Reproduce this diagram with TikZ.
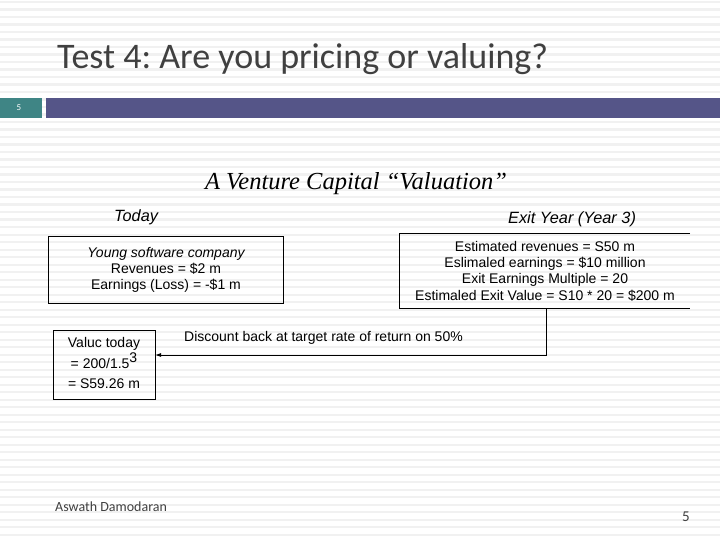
\documentclass[tikz,border=0pt]{standalone}
\usepackage{fontspec}
\setmainfont{Liberation Sans}
\newfontfamily\calib{Carlito}
\newfontfamily\timesf{Liberation Serif}
\usetikzlibrary{arrows.meta}
\frenchspacing
\definecolor{stripe}{HTML}{F1F1F1}
\definecolor{titlec}{HTML}{404040}
\definecolor{tealc}{HTML}{3F8585}
\definecolor{barc}{HTML}{555588}
\tikzset{
  boxs/.style={draw=black, line width=0.9pt, inner sep=0pt},
  bodytext/.style={font=\fontsize{14}{16.3}\selectfont, align=center, inner sep=0pt},
  headtext/.style={font=\fontsize{16.3}{18}\selectfont\itshape, inner sep=0pt, anchor=base west},
  plaintext/.style={font=\fontsize{14}{16}\selectfont, inner sep=0pt, anchor=base},
}
\begin{document}
\begin{tikzpicture}[x=1pt,y=-1pt]
\useasboundingbox (0,0) rectangle (720,540);
\fill[white] (0,0) rectangle (720,540);
\foreach \i in {0,...,71} {
  \fill[stripe] (0,{\i*7.5+1}) rectangle (720,{\i*7.5+3.2});
}
% title
\node[anchor=base west, inner sep=0pt, text=titlec, font=\calib\fontsize{36}{40}\selectfont] (title) at (57,69) {Test 4: Are you pricing or valuing?};
% bars
\fill[tealc] (0,98) rectangle (42,118);
\node[text=white, font=\calib\fontsize{9}{10}\selectfont, inner sep=0pt] (pg) at (19,108) {5};
\fill[barc] (46,98) rectangle (720,118);
% subtitle
\node[anchor=base, inner sep=0pt, font=\timesf\itshape\fontsize{24.5}{28}\selectfont] (sub) at (356,190) {A Venture Capital “Valuation”};
% headings
\node[headtext] (today) at (114,222) {Today};
\node[headtext] (exit) at (508,223) {Exit Year (Year 3)};
% left box
\draw[boxs] (48,236) rectangle (283,303);
\node[bodytext] (lt) at (166,270) {\itshape Young software company\\Revenues = \$2 m\\Earnings (Loss) = -\$1 m};
% right box
\draw[boxs] (690,233) -- (399,233) -- (399,308) -- (690,308);
\node[bodytext] (rt) at (545,271) {Estimated revenues = S50 m\\Eslimaled earnings = \$10 million\\Exit Earnings Multiple = 20\\Estimaled Exit Value = S10 * 20 = \$200 m};
\coordinate (rb) at (546,308);
\coordinate (corner) at (546,355);
% value box
\draw[boxs] (53,330) rectangle (155,399);
\coordinate (vb) at (155,355);
\node[plaintext] (v1) at (104,347) {Valuc today};
\node[plaintext] (v2) at (104,368) {= 200/1.5\raisebox{6pt}{3}};
\node[plaintext] (v3) at (104,388) {= S59.26 m};
% connector
\draw[line width=0.9pt, -{Latex[length=6pt,width=4pt]}] (rb) -- (corner) -- (vb);
\node[anchor=base west, inner sep=0pt, font=\fontsize{14}{16}\selectfont] (disc) at (184,341) {Discount back at target rate of return on 50\%};
% footer
\node[anchor=base west, inner sep=0pt, text=titlec, font=\calib\fontsize{14}{16}\selectfont] (auth) at (55,511) {Aswath Damodaran};
\node[anchor=base west, inner sep=0pt, text=titlec, font=\calib\fontsize{15}{16}\selectfont] (num) at (682,521) {5};
\end{tikzpicture}
\end{document}
